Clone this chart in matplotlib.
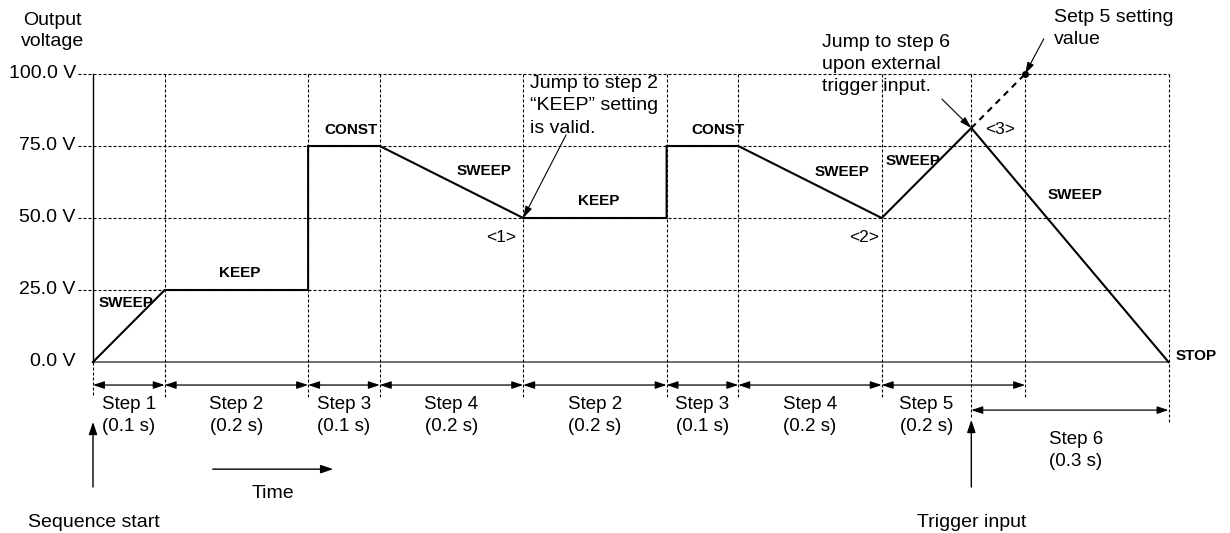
import numpy as np
import matplotlib.pyplot as plt

# sequence data
step_names = ['Step 1', 'Step 2', 'Step 3', 'Step 4', 'Step 2', 'Step 3', 'Step 4', 'Step 5', 'Step 6']
step_secs = [0.1, 0.2, 0.1, 0.2, 0.2, 0.1, 0.2, 0.2, 0.3]
step_bounds = [0.0, 0.1, 0.3, 0.4, 0.6, 0.8, 0.9, 1.1, 1.3]
trigger_t = 1.225
stop_t = 1.5

# output voltage path (s, V)
path_t = [0.0, 0.1, 0.3, 0.3, 0.4, 0.6, 0.8, 0.8, 0.9, 1.1, 1.225, 1.5]
path_v = [0.0, 25.0, 25.0, 75.0, 75.0, 50.0, 50.0, 75.0, 75.0, 50.0, 81.25, 0.0]
setpoint_t = [1.225, 1.3]
setpoint_v = [81.25, 100.0]

volt_levels = [0.0, 25.0, 50.0, 75.0, 100.0]
volt_labels = ['0.0 V', '25.0 V', '50.0 V', '75.0 V', '100.0 V']

# mode labels: text, t, v
mode_text = ['SWEEP', 'KEEP', 'CONST', 'SWEEP', 'KEEP', 'CONST', 'SWEEP', 'SWEEP', 'SWEEP', 'STOP']
mode_t = [0.046, 0.205, 0.36, 0.545, 0.705, 0.872, 1.045, 1.144, 1.37, 1.538]
mode_v = [20.5, 30.9, 80.6, 66.3, 55.9, 80.6, 66.0, 69.8, 58.0, 2.1]

mark_text = ['<1>', '<2>', '<3>']
mark_t = [0.569, 1.075, 1.265]
mark_v = [43.4, 43.4, 80.9]

FONT = ['Liberation Sans', 'DejaVu Sans']

fig = plt.figure(figsize=(12.3, 5.33), dpi=100)
ax = fig.add_axes([0, 0, 1, 1])
# pixel layout: t=0 at x=93, 717 px per second; 0 V at y=362, 2.88 px per volt
ax.set_xlim(-93 / 717, (1230 - 93) / 717)
ax.set_ylim(-(533 - 362) / 2.88, 362 / 2.88)
ax.axis('off')

grid_kw = dict(color='black', lw=0.8, linestyle=(0, (2.7, 1.8)))

# horizontal grid
for v in volt_levels[1:]:
    ax.plot([-0.021, stop_t], [v, v], **grid_kw)
ax.plot([0, stop_t], [0, 0], color='#555555', lw=1.2)

# vertical grid
vlines = step_bounds[1:] + [trigger_t, stop_t]
for t in vlines:
    bottom = -12.2
    if t == trigger_t:
        bottom = -19.5
    elif t == stop_t:
        bottom = -20.8
    ax.plot([t, t], [100, bottom], **grid_kw)
ax.plot([0, 0], [0, 100], color='black', lw=1.0)
ax.plot([0, 0], [0, -12.2], **grid_kw)

# y labels
for v, lab in zip(volt_levels, volt_labels):
    ax.text(-0.024, v, lab, ha='right', va='center', fontsize=14, family=FONT)
ax.text(-0.056, 114.9, 'Output\nvoltage', ha='center', va='center', fontsize=14,
        family=FONT, linespacing=1.35)

# voltage path
ax.plot(path_t, path_v, color='black', lw=1.5, solid_joinstyle='miter')
ax.plot(setpoint_t, setpoint_v, color='black', lw=1.5, linestyle=(0, (3, 2.5)))
ax.plot(setpoint_t[-1], setpoint_v[-1], 'o', color='black', ms=4)

for s, t, v in zip(mode_text, mode_t, mode_v):
    ax.text(t, v, s, ha='center', va='center', fontsize=11, fontweight='bold', family=FONT)
for s, t, v in zip(mark_text, mark_t, mark_v):
    ax.text(t, v, s, ha='center', va='center', fontsize=12.5, family=FONT)

# step dimension arrows
dim_kw = dict(arrowstyle='<|-|>,head_length=0.45,head_width=0.15', color='black',
              lw=0.9, shrinkA=0, shrinkB=0, mutation_scale=15)
ends = step_bounds[1:] + [1.3]
for i in range(8):
    t0, t1 = step_bounds[i], ends[i]
    ax.annotate('', xy=(t1, -8.0), xytext=(t0, -8.0), arrowprops=dim_kw)
    mid = (t0 + min(t1, trigger_t)) / 2
    ax.text(mid, -18.6, '%s\n(%s s)' % (step_names[i], step_secs[i]), ha='center',
            va='center', fontsize=13.5, family=FONT, linespacing=1.4)
ax.annotate('', xy=(stop_t, -16.7), xytext=(trigger_t, -16.7), arrowprops=dim_kw)
ax.text((trigger_t + stop_t) / 2 + 0.008, -30.8, '%s\n(%s s)' % (step_names[8], step_secs[8]),
        ha='center', va='center', fontsize=13.5, family=FONT, linespacing=1.4)

# start / trigger / time arrows
up_kw = dict(arrowstyle='-|>,head_length=0.5,head_width=0.17', color='black', lw=1.0,
             shrinkA=0, shrinkB=0, mutation_scale=15)
ax.annotate('', xy=(0, -20.8), xytext=(0, -43.4), arrowprops=up_kw)
ax.annotate('', xy=(trigger_t, -20.1), xytext=(trigger_t, -43.4), arrowprops=up_kw)
ax.annotate('', xy=(0.335, -37.2), xytext=(0.167, -37.2), arrowprops=up_kw)
ax.text(0.251, -45.5, 'Time', ha='center', va='center', fontsize=14, family=FONT)
ax.text(0.0014, -55.6, 'Sequence start', ha='center', va='center', fontsize=14, family=FONT)
ax.text(trigger_t, -55.6, 'Trigger input', ha='center', va='center', fontsize=14, family=FONT)

# callouts
call_kw = dict(arrowstyle='-|>,head_length=0.5,head_width=0.15', color='black', lw=0.8,
               shrinkA=0, shrinkB=0, mutation_scale=14)
ax.annotate('', xy=(0.6, 50), xytext=(0.6597, 78.8), arrowprops=call_kw)
ax.text(0.6095, 88.9, 'Jump to step 2\n\u201cKEEP\u201d setting\nis valid.', ha='left',
        va='center', fontsize=14, family=FONT, linespacing=1.4)
ax.annotate('', xy=(trigger_t, 81.25), xytext=(1.184, 91.3), arrowprops=call_kw)
ax.text(1.0167, 103.3, 'Jump to step 6\nupon external\ntrigger input.', ha='left',
        va='center', fontsize=14, family=FONT, linespacing=1.4)
ax.annotate('', xy=(1.3, 100), xytext=(1.326, 112.2), arrowprops=call_kw)
ax.text(1.340, 115.8, 'Setp 5 setting\nvalue', ha='left', va='center', fontsize=14,
        family=FONT, linespacing=1.4)

fig.savefig('out.png', dpi=100)
